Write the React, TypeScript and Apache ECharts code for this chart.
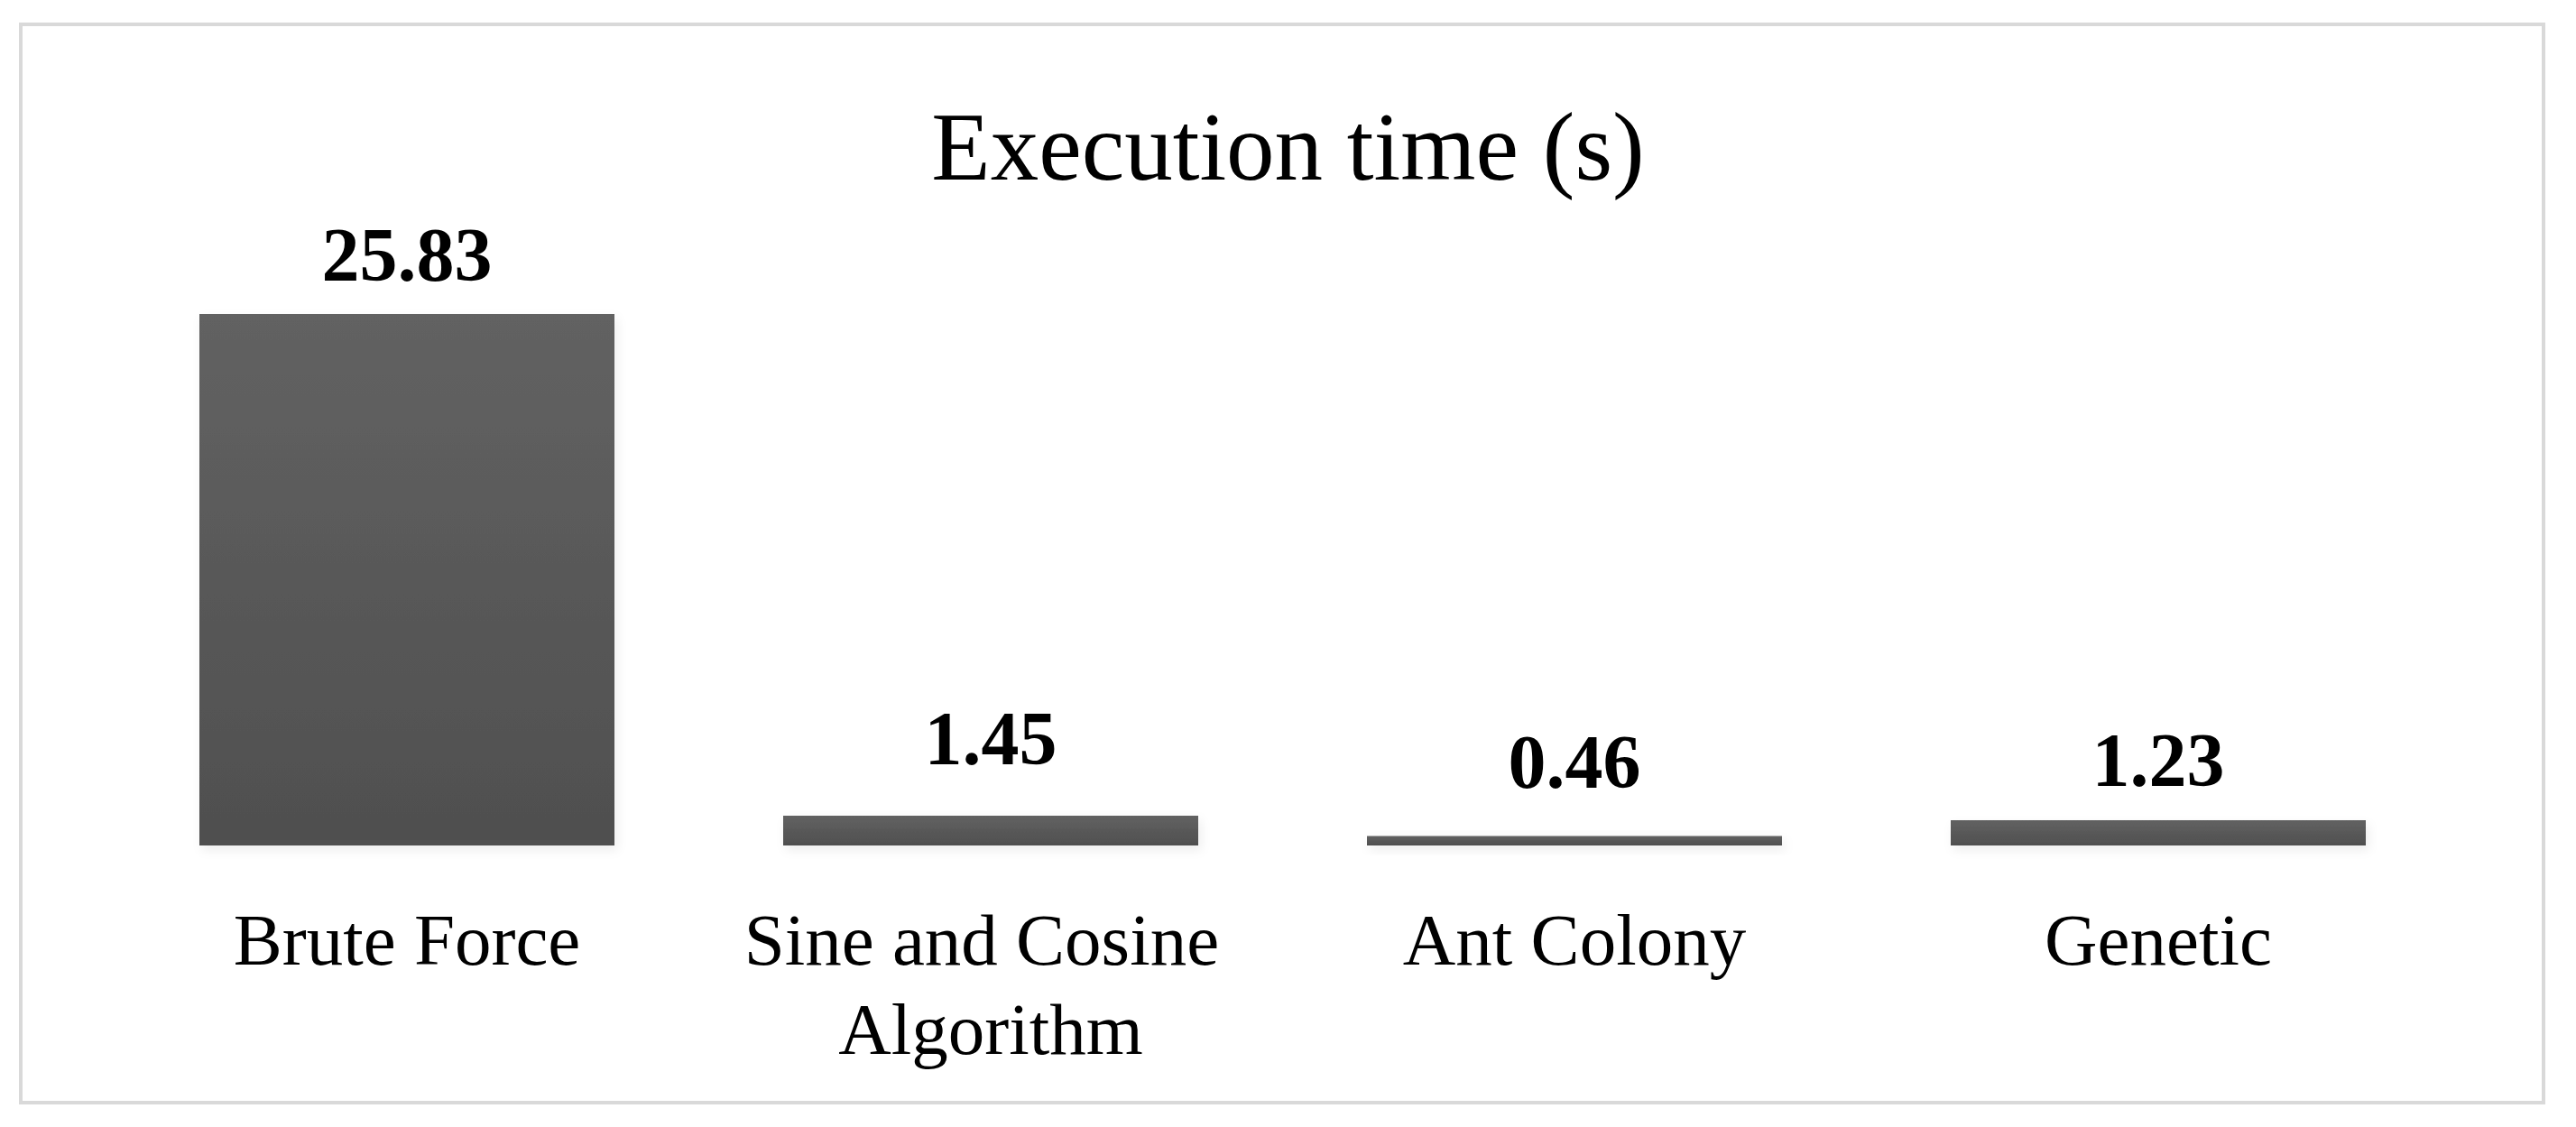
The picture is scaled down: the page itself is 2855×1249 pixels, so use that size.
import React, { useEffect, useRef } from "react";
import * as echarts from "echarts";

const categories: string[] = ["Brute Force", "Sine and Cosine Algorithm", "Ant Colony", "Genetic"];
const executionTimes: number[] = [25.83, 1.45, 0.46, 1.23];
const labelDistances: number[] = [24, 43, 40, 24];
const chartTitle = "Execution time (s)";

const FONT = "'Liberation Serif', 'DejaVu Serif', serif";

export default function App() {
  const ref = useRef<HTMLDivElement | null>(null);

  useEffect(() => {
    if (!ref.current) return;
    const chart = echarts.init(ref.current, undefined, { renderer: "svg" });
    const barGradient = new echarts.graphic.LinearGradient(0, 0, 0, 1, [
      { offset: 0, color: "#626262" },
      { offset: 1, color: "#4f4f4f" },
    ]);
    chart.setOption({
      animation: false,
      backgroundColor: "#ffffff",
      title: {
        text: chartTitle,
        left: "center",
        top: 104,
        textStyle: {
          fontFamily: FONT,
          fontSize: 107,
          fontWeight: "normal",
          color: "#000000",
          lineHeight: 107,
        },
      },
      graphic: [
        {
          type: "rect",
          shape: { x: 23, y: 27, width: 2796, height: 1195 },
          style: { fill: "none", stroke: "#d9d9d9", lineWidth: 4 },
          silent: true,
        },
      ],
      grid: { left: 127.5, right: 139.5, top: 253, bottom: 312, containLabel: false },
      xAxis: {
        type: "category",
        data: categories,
        axisLine: { show: false },
        axisTick: { show: false },
        axisLabel: {
          interval: 0,
          margin: 55,
          fontFamily: FONT,
          fontSize: 81,
          lineHeight: 99,
          color: "#000000",
          width: 620,
          overflow: "break",
          verticalAlign: "top",
        },
      },
      yAxis: {
        type: "value",
        min: 0,
        max: 30,
        show: false,
        splitLine: { show: false },
      },
      series: [
        {
          type: "bar",
          barWidth: 460,
          data: executionTimes.map((v, i) => ({
            value: v,
            label: { distance: labelDistances[i] },
          })),
          itemStyle: {
            color: barGradient,
            shadowColor: "rgba(0,0,0,0.07)",
            shadowBlur: 12,
            shadowOffsetX: 3,
            shadowOffsetY: 5,
          },
          label: {
            show: true,
            position: "top",
            fontFamily: FONT,
            fontSize: 84,
            fontWeight: "bold",
            lineHeight: 84,
            color: "#000000",
            formatter: (p: any) => Number(p.value).toFixed(2),
          },
        },
      ],
    });
    return () => chart.dispose();
  }, []);

  return (
    <div
      ref={ref}
      style={{ position: "fixed", left: 0, top: 0, width: 2855, height: 1249, background: "#fff" }}
    />
  );
}
